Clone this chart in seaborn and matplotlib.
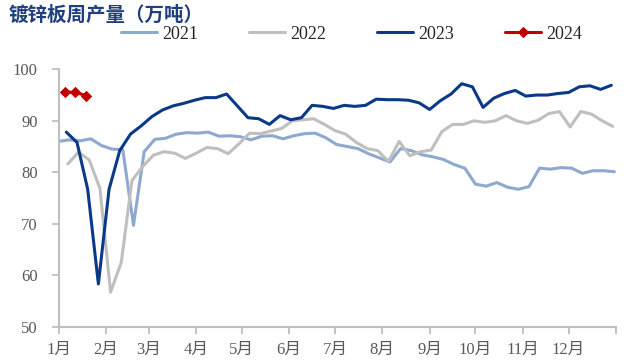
import pandas as pd
import matplotlib.pyplot as plt
import seaborn as sns

# weekly galvanized sheet output, 10k tonnes (Friday data)
years = ["2021", "2022", "2023", "2024"]
start_dates = ["2021-01-01", "2022-01-07", "2023-01-06", "2024-01-05"]
colors = ["#8EA9D0", "#BFBFBF", "#0A3A87", "#C00000"]

v2021 = [86.0, 86.3, 86.1, 86.5, 85.2, 84.5, 84.4, 69.7, 84.0, 86.4,
         86.6, 87.4, 87.7, 87.6, 87.8, 87.0, 87.1, 86.9, 86.3, 87.0,
         87.1, 86.5, 87.1, 87.5, 87.6, 86.7, 85.4, 85.0, 84.6, 83.6,
         82.8, 82.0, 84.6, 84.2, 83.4, 83.0, 82.5, 81.5, 80.8, 77.7,
         77.3, 78.0, 77.1, 76.7, 77.2, 80.8, 80.6, 80.9, 80.8, 79.8,
         80.3, 80.3, 80.1]
v2022 = [81.6, 83.9, 82.4, 76.9, 56.7, 62.5, 78.4, 81.1, 83.3, 84.0,
         83.7, 82.7, 83.7, 84.8, 84.6, 83.6, 85.5, 87.6, 87.5, 88.0,
         88.5, 90.0, 90.2, 90.4, 89.3, 88.1, 87.4, 85.8, 84.6, 84.2,
         82.1, 86.0, 83.2, 84.0, 84.3, 87.9, 89.3, 89.3, 90.0, 89.7,
         90.0, 91.0, 90.0, 89.5, 90.1, 91.4, 91.8, 88.8, 91.8, 91.3,
         90.0, 88.9]
v2023 = [87.8, 85.8, 76.7, 58.3, 76.7, 84.2, 87.4, 89.0, 90.8, 92.1,
         92.9, 93.4, 94.0, 94.5, 94.5, 95.2, 92.9, 90.6, 90.4, 89.3,
         91.0, 90.2, 90.6, 93.0, 92.8, 92.4, 93.0, 92.8, 93.0, 94.2,
         94.1, 94.1, 94.0, 93.5, 92.2, 93.9, 95.2, 97.2, 96.6, 92.6,
         94.4, 95.3, 95.9, 94.8, 95.0, 95.0, 95.3, 95.5, 96.6, 96.8,
         96.1, 96.9]
v2024 = [95.6, 95.5, 94.9]

month_labels = [f"{m}月" for m in range(1, 13)] + [""]

frames = []
for y, s, vals in zip(years, start_dates, [v2021, v2022, v2023, v2024]):
    d = pd.date_range(s, periods=len(vals), freq="7D")
    frames.append(pd.DataFrame({"year": y, "day": d.dayofyear - 1, "value": vals}))
df = pd.concat(frames, ignore_index=True)

sns.set_theme(style="ticks")
plt.rcParams["font.family"] = ["Liberation Serif", "Noto Sans CJK SC"]

fig = plt.figure(figsize=(6.33, 3.61), dpi=100)
ax = fig.add_axes([0.0927, 0.095, 0.8803, 0.713])

for y, c in zip(years, colors):
    kw = dict(marker="D", markersize=5, markeredgecolor=c) if y == "2024" else {}
    sns.lineplot(data=df[df["year"] == y], x="day", y="value", color=c,
                 lw=2.2, label=y, ax=ax, **kw)

month_starts = list(pd.date_range("2023-01-01", periods=13, freq="MS").dayofyear - 1)
month_starts[-1] = 365
ax.set_xticks(month_starts)
ax.set_xticklabels(month_labels)
ax.set_xlim(0, 365)
ax.set_ylim(50, 100)
ax.set_yticks(range(50, 101, 10))
ax.set_xlabel("")
ax.set_ylabel("")

for side in ["top", "right"]:
    ax.spines[side].set_visible(False)
for side in ["left", "bottom"]:
    ax.spines[side].set_color("#BFBFBF")
    ax.spines[side].set_linewidth(1.5)
ax.tick_params(colors="#BFBFBF", labelcolor="#595959", length=5, width=1.3,
               labelsize=12)
ax.tick_params(axis="y", pad=10)
ax.tick_params(axis="x", pad=6)

ax.legend(ncol=4, loc="center", bbox_to_anchor=(0.555, 0.905),
          bbox_transform=fig.transFigure, frameon=False, fontsize=13,
          handlelength=2.0, columnspacing=2.8, handletextpad=0.3)

fig.text(0.013, 0.958, "镀锌板周产量（万吨）", fontsize=14, fontweight="bold",
         color="#1F3F7F", family="Noto Sans CJK SC", va="center")

fig.savefig("out.png", dpi=100)
